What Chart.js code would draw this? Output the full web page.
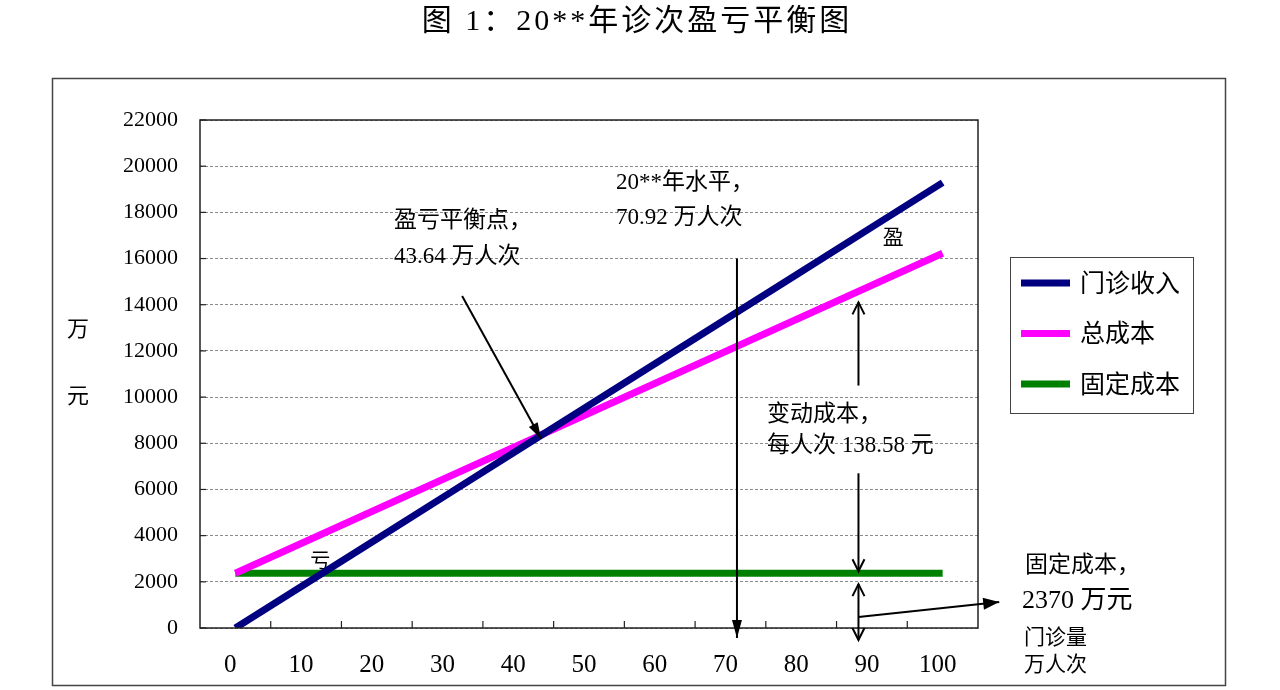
<!DOCTYPE html>
<html><head><meta charset="utf-8">
<script src="https://cdn.jsdelivr.net/npm/chart.js@4.4.1/dist/chart.umd.min.js"></script>
<style>html,body{margin:0;padding:0;background:#fff;}#wrap{width:1280px;height:690px;position:relative}</style>
</head><body><div id="wrap"><canvas id="c" width="1280" height="690"></canvas></div>
<script>
// ---- data ----
const categories = ['0','10','20','30','40','50','60','70','80','90','100'];
const revenue = [0,1929,3858,5787,7716,9645,11573,13502,15431,17360,19289];
const totalCost = [2370,3756,5142,6527,7913,9299,10685,12071,13456,14842,16228];
const fixedCost = [2370,2370,2370,2370,2370,2370,2370,2370,2370,2370,2370];
const yTickValues = [0,2000,4000,6000,8000,10000,12000,14000,16000,18000,20000,22000];
const seriesNames = ['门诊收入','总成本','固定成本'];
const seriesColors = ['#000080','#FF00FF','#008000'];
const titleText = '图 1：20**年诊次盈亏平衡图';
const yAxisTitle = ['万','元'];
const xAxisTitle = ['门诊量','万人次'];
const breakEvenVisits = 43.64;
const breakEvenValue = 8417;
const currentVisits = 70.92;
const fixedCostValue = 2370;
const variableCostPerVisit = 138.58;

const LAT = '"Liberation Serif", "Noto Sans CJK SC"';

function arrowHead(ctx, x1, y1, x2, y2, filled, len, half) {
  const a = Math.atan2(y2 - y1, x2 - x1);
  const bx = x2 - len * Math.cos(a), by = y2 - len * Math.sin(a);
  const px = -Math.sin(a) * half, py = Math.cos(a) * half;
  ctx.beginPath();
  if (filled) {
    ctx.moveTo(x2, y2); ctx.lineTo(bx + px, by + py); ctx.lineTo(bx - px, by - py); ctx.closePath(); ctx.fill();
  } else {
    ctx.moveTo(bx + px, by + py); ctx.lineTo(x2, y2); ctx.lineTo(bx - px, by - py); ctx.stroke();
  }
}
function line(ctx, x1, y1, x2, y2) { ctx.beginPath(); ctx.moveTo(x1, y1); ctx.lineTo(x2, y2); ctx.stroke(); }

const decor = {
  id: 'decor',
  beforeDatasetsDraw(chart) {
    const ctx = chart.ctx, xs = chart.scales.x, ys = chart.scales.y;
    const px = v => xs.getPixelForValue(v / 10);
    ctx.save();
    ctx.fillStyle = '#000';
    ctx.font = '20px ' + LAT;
    ctx.textAlign = 'center'; ctx.textBaseline = 'middle';
    ctx.fillText('亏', px(12), ys.getPixelForValue(2815));
    ctx.restore();
  },
  afterDraw(chart) {
    const ctx = chart.ctx, ca = chart.chartArea, xs = chart.scales.x, ys = chart.scales.y;
    const px = v => xs.getPixelForValue(v / 10);
    const py = v => ys.getPixelForValue(v);
    ctx.save();
    // outer frame
    ctx.strokeStyle = '#444'; ctx.lineWidth = 1.5;
    ctx.strokeRect(52.5, 78.5, 1173, 607);
    // title
    ctx.fillStyle = '#000';
    ctx.font = '30px ' + LAT;
    ctx.textAlign = 'center'; ctx.textBaseline = 'middle';
    try { ctx.letterSpacing = '3px'; } catch (e) {}
    ctx.fillText(titleText, 637, 22);
    try { ctx.letterSpacing = '0px'; } catch (e) {}
    // plot border
    ctx.strokeStyle = '#222'; ctx.lineWidth = 1.5;
    ctx.strokeRect(ca.left, ca.top, ca.right - ca.left, ca.bottom - ca.top);
    // inward ticks
    ctx.lineWidth = 1.2;
    yTickValues.forEach(v => { const y = py(v); line(ctx, ca.left, y, ca.left + 6, y); });
    for (let i = 0; i < categories.length - 1; i++) {
      const x = xs.getPixelForValue(i + 0.5);
      line(ctx, x, ca.bottom, x, ca.bottom - 7);
    }
    // axis titles
    ctx.font = '22px ' + LAT;
    ctx.textAlign = 'center'; ctx.textBaseline = 'middle';
    ctx.fillText(yAxisTitle[0], 78, 330);
    ctx.fillText(yAxisTitle[1], 78, 397);
    ctx.font = '21px ' + LAT; ctx.textAlign = 'left';
    ctx.fillText(xAxisTitle[0], 1024, 638);
    ctx.fillText(xAxisTitle[1], 1024, 665);
    // legend
    ctx.strokeStyle = '#444'; ctx.lineWidth = 1;
    ctx.strokeRect(1010.5, 257.5, 183, 156);
    ctx.font = '25px ' + LAT;
    seriesNames.forEach((n, i) => {
      const y = 283 + i * 50.5;
      ctx.strokeStyle = seriesColors[i]; ctx.lineWidth = 7;
      line(ctx, 1021, y, 1070, y);
      ctx.fillStyle = '#000';
      ctx.fillText(n, 1080, y + 2);
    });
    // annotations
    ctx.fillStyle = '#000'; ctx.strokeStyle = '#000';
    ctx.font = '23px ' + LAT; ctx.textAlign = 'left'; ctx.textBaseline = 'middle';
    ctx.fillText('盈亏平衡点，', 394, 221);
    ctx.fillText('43.64 万人次', 394, 257);
    ctx.fillText('20**年水平，', 616, 183);
    ctx.fillText('70.92 万人次', 616, 218);
    ctx.fillText('变动成本，', 767, 415);
    ctx.fillText('每人次 138.58 元', 767, 446);
    ctx.fillText('固定成本，', 1025, 566);
    ctx.font = '26px ' + LAT;
    ctx.fillText('2370 万元', 1022, 601);
    ctx.font = '21px ' + LAT; ctx.textAlign = 'center';
    ctx.fillText('盈', px(93), py(16890));

    ctx.lineWidth = 2;
    // break-even arrow
    const bx0 = px(32.06), by0 = py(14378), bx1 = px(breakEvenVisits) - 3, by1 = py(breakEvenValue) + 5;
    line(ctx, bx0, by0, bx1, by1); arrowHead(ctx, bx0, by0, bx1, by1, true, 16, 5);
    // current level arrow
    const cx = px(currentVisits);
    line(ctx, cx, py(16000), cx, ca.bottom + 10);
    arrowHead(ctx, cx, py(16000), cx, ca.bottom + 10, true, 18, 5);
    // variable cost double arrow
    const vx = px(88.1);
    line(ctx, vx, py(14100), vx, py(10500));
    arrowHead(ctx, vx, py(10500), vx, py(14100), false, 12, 6);
    line(ctx, vx, py(6700), vx, py(fixedCostValue) - 2);
    arrowHead(ctx, vx, py(6700), vx, py(fixedCostValue) - 2, false, 12, 6);
    // fixed cost double arrow
    const fTop = py(1900), fBot = ca.bottom + 12;
    line(ctx, vx, fTop, vx, fBot);
    arrowHead(ctx, vx, fBot, vx, fTop, false, 12, 6);
    arrowHead(ctx, vx, fTop, vx, fBot, false, 12, 6);
    // pointer to fixed cost label
    const ly0 = py(476), lx1 = px(108), ly1 = py(1126);
    line(ctx, vx, ly0, lx1, ly1);
    arrowHead(ctx, vx, ly0, lx1, ly1, true, 16, 6);
    ctx.restore();
  }
};

new Chart(document.getElementById('c'), {
  type: 'line',
  data: {
    labels: categories,
    datasets: [
      { label: seriesNames[0], data: revenue, borderColor: seriesColors[0], backgroundColor: seriesColors[0] },
      { label: seriesNames[1], data: totalCost, borderColor: seriesColors[1], backgroundColor: seriesColors[1] },
      { label: seriesNames[2], data: fixedCost, borderColor: seriesColors[2], backgroundColor: seriesColors[2] }
    ].map(d => Object.assign(d, { borderWidth: 7, pointRadius: 0, tension: 0, fill: false, borderCapStyle: 'butt' }))
  },
  options: {
    responsive: false, animation: false,
    layout: { padding: { left: 0, right: 302, top: 120, bottom: 0 } },
    plugins: { legend: { display: false }, title: { display: false }, tooltip: { enabled: false } },
    scales: {
      x: {
        type: 'category', offset: true,
        grid: { display: false, drawTicks: false },
        border: { display: false },
        ticks: { color: '#000', font: { family: 'Liberation Serif', size: 25 }, padding: 22, maxRotation: 0, autoSkip: false, labelOffset: -5 },
        afterFit: s => { s.height = 62; }
      },
      y: {
        min: 0, max: 22000,
        afterBuildTicks: s => { s.ticks = yTickValues.map(v => ({ value: v })); },
        grid: { color: '#8a8a8a', lineWidth: 1, drawTicks: false },
        border: { display: false, dash: [3, 2] },
        ticks: { color: '#000', font: { family: 'Liberation Serif', size: 22 }, padding: 22, callback: v => String(v) },
        afterFit: s => { s.width = 200; }
      }
    }
  },
  plugins: [decor]
});
</script>
</body></html>
